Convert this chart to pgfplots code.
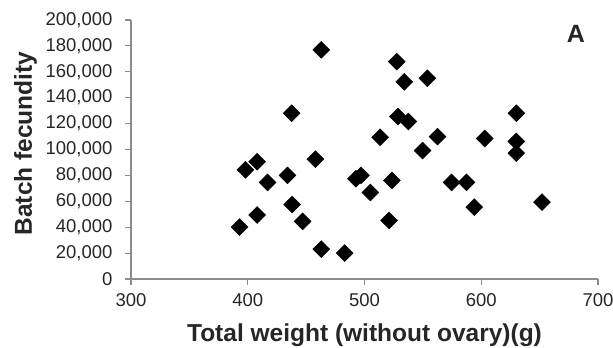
\documentclass[border=0pt]{standalone}
\usepackage{fontspec}
\setmainfont{Liberation Sans}
\usepackage{pgfplots}
\pgfplotsset{compat=1.18}
\definecolor{axgray}{HTML}{8C8C8C}
\definecolor{txt}{HTML}{262626}
\begin{document}
\begin{tikzpicture}
\useasboundingbox (-131bp,-69bp) rectangle (482bp,279bp);
\begin{axis}[
  at={(0,0)}, anchor=south west,
  scale only axis, width=467bp, height=259bp,
  xmin=300, xmax=700, ymin=0, ymax=200000,
  scaled y ticks=false, scaled x ticks=false,
  xtick={300,400,500,600,700},
  xticklabels={300,400,500,600,700},
  ytick={0,20000,40000,60000,80000,100000,120000,140000,160000,180000,200000},
  yticklabels={0,{20,000},{40,000},{60,000},{80,000},{100,000},{120,000},{140,000},{160,000},{180,000},{200,000}},
  axis lines=left,
  axis line style={axgray, line width=1.2pt, -},
  tick style={axgray, line width=1.2pt},
  tick align=outside,
  major tick length=6bp,
  x tick label style={font=\fontsize{18.5bp}{21bp}\selectfont, text=txt, yshift=-5bp},
  y tick label style={font=\fontsize{18.5bp}{21bp}\selectfont, text=txt, xshift=-9bp},
  xlabel={Total weight (without ovary)(g)},
  ylabel={Batch fecundity},
  xlabel style={font=\fontsize{24.5bp}{28bp}\selectfont\bfseries, text=txt, at={(axis description cs:0.5,-0.242)}, anchor=base},
  ylabel style={font=\fontsize{24.5bp}{28bp}\selectfont\bfseries, text=txt, at={(axis description cs:-0.212,0.523)}, anchor=base},
  clip=false,
]
\addplot[only marks, mark=square*, mark size=6bp, mark options={rotate=45, fill=black, draw=black}] coordinates {
(393,40100) (398,84300) (408,90500) (408,49400) (417,74600)
(434,80000) (437.5,128000) (438,57600) (447,44500) (458,92500)
(463,176900) (463,23100) (483,20000) (492.6,77400) (497,80000)
(505,66800) (513.4,109500) (521,45200) (523.5,76100) (527.6,167900)
(528.6,125400) (534,152200) (537.6,121600) (549.7,99200) (553.8,155000)
(562.5,110000) (574.6,74600) (587.4,74600) (594,55500) (603,108500)
(630,128000) (630,106200) (630,97200) (652,59400)
};
\node[font=\fontsize{25bp}{28bp}\selectfont\bfseries, text=txt] at (axis cs:681,189200) {A};
\end{axis}
\end{tikzpicture}
\end{document}
